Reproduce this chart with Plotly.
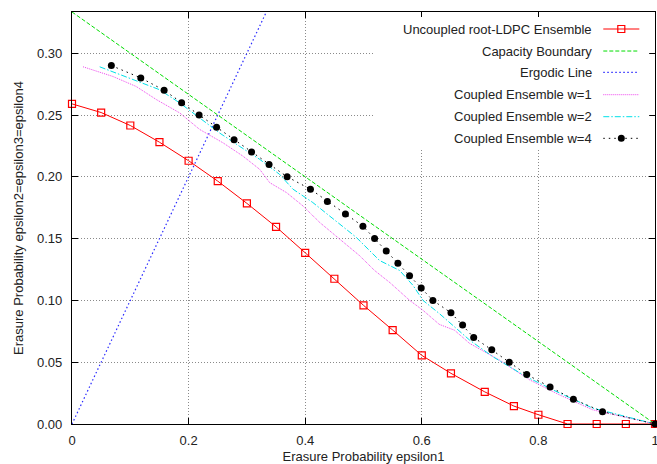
import plotly.graph_objects as go

# ---- data ----
uncoupled_x = [0, 0.05, 0.1, 0.15, 0.2, 0.25, 0.3, 0.35, 0.4, 0.45, 0.5, 0.55, 0.6, 0.65,
               0.708, 0.758, 0.8, 0.85, 0.9, 0.95, 1.0]
uncoupled_y = [0.259, 0.252, 0.2415, 0.228, 0.213, 0.1965, 0.1785, 0.1595, 0.1385, 0.1175,
               0.096, 0.076, 0.0555, 0.041, 0.026, 0.0145, 0.0075, 0.0, 0.0, 0.0, 0.0]

capacity_x = [0, 1]
capacity_y = [1 / 3, 0]

ergodic_x = [0, 1 / 3]
ergodic_y = [0, 1 / 3]

w1_x = [0.019, 0.070, 0.110, 0.145, 0.185, 0.219, 0.259, 0.293, 0.322, 0.339, 0.368, 0.396,
        0.425, 0.456, 0.493, 0.519, 0.545, 0.579, 0.602, 0.630, 0.656, 0.682, 0.733, 0.785,
        0.836, 0.893, 1.0]
w1_y = [0.289, 0.2812, 0.2731, 0.2624, 0.2516, 0.2383, 0.2275, 0.2168, 0.206, 0.1953, 0.1872,
        0.1765, 0.163, 0.1505, 0.1363, 0.1242, 0.1145, 0.1001, 0.092, 0.0806, 0.0759, 0.0652,
        0.0518, 0.0357, 0.0236, 0.0115, 0.0]

w2_x = [0.0475, 0.099, 0.150, 0.185, 0.219, 0.253, 0.287, 0.322, 0.356, 0.379, 0.413, 0.442,
        0.4876, 0.5275, 0.562, 0.585, 0.602, 0.630, 0.650, 0.682, 0.722, 0.779, 0.8365, 0.893, 1.0]
w2_y = [0.289, 0.2798, 0.2705, 0.2597, 0.2476, 0.2355, 0.2248, 0.2141, 0.202, 0.190, 0.1792,
        0.1685, 0.151, 0.1323, 0.1242, 0.1121, 0.100, 0.0894, 0.0813, 0.0679, 0.0544, 0.0383,
        0.025, 0.0129, 0.0]

w4_x = [0.0675, 0.118, 0.158, 0.188, 0.218, 0.248, 0.278, 0.308, 0.338, 0.369, 0.409, 0.438,
        0.469, 0.499, 0.519, 0.539, 0.559, 0.579, 0.599, 0.619, 0.650, 0.670, 0.689, 0.720,
        0.750, 0.780, 0.820, 0.860, 0.910, 1.0]
w4_y = [0.29, 0.28, 0.27, 0.26, 0.25, 0.24, 0.23, 0.22, 0.21, 0.20, 0.19, 0.18, 0.17, 0.16,
        0.15, 0.14, 0.13, 0.12, 0.11, 0.10, 0.09, 0.08, 0.07, 0.06, 0.05, 0.04, 0.03, 0.02,
        0.01, 0.0]

x_ticks = [0, 0.2, 0.4, 0.6, 0.8, 1.0]
x_tick_labels = ["0", "0.2", "0.4", "0.6", "0.8", "1"]
y_ticks = [0, 0.05, 0.10, 0.15, 0.20, 0.25, 0.30]
y_tick_labels = ["0.00", "0.05", "0.10", "0.15", "0.20", "0.25", "0.30"]

legend_names = ["Uncoupled root-LDPC Ensemble", "Capacity Boundary", "Ergodic Line",
                "Coupled Ensemble w=1", "Coupled Ensemble w=2", "Coupled Ensemble w=4"]

# ---- styles ----
RED = "#ff0000"
GREEN = "#00dd00"
BLUE = "#2a2aff"
MAGENTA = "#ee44ee"
CYAN = "#00e0e8"
BLACK = "#000000"
FONT = "Liberation Sans, Arial, Helvetica, sans-serif"

fig = go.Figure()

fig.add_trace(go.Scatter(x=uncoupled_x, y=uncoupled_y, mode="lines+markers",
                         line=dict(color=RED, width=1),
                         marker=dict(symbol="square-open", size=7, color=RED, line=dict(width=1.2)),
                         name=legend_names[0], cliponaxis=False))
fig.add_trace(go.Scatter(x=capacity_x, y=capacity_y, mode="lines",
                         line=dict(color=GREEN, width=1, dash="4px,2px"), name=legend_names[1]))
fig.add_trace(go.Scatter(x=ergodic_x, y=ergodic_y, mode="lines",
                         line=dict(color=BLUE, width=1.2, dash="1.5px,2.5px"), name=legend_names[2]))
fig.add_trace(go.Scatter(x=w1_x, y=w1_y, mode="lines",
                         line=dict(color=MAGENTA, width=1, dash="1px,1px"), name=legend_names[3]))
fig.add_trace(go.Scatter(x=w2_x, y=w2_y, mode="lines",
                         line=dict(color=CYAN, width=1, dash="6px,2px,1.5px,2px"), name=legend_names[4]))
fig.add_trace(go.Scatter(x=w4_x, y=w4_y, mode="lines+markers",
                         line=dict(color=BLACK, width=1, dash="1.5px,4px"),
                         marker=dict(symbol="circle", size=7, color=BLACK),
                         name=legend_names[5], cliponaxis=False))

# ---- gnuplot-style legend (text right-aligned, sample on the right) ----
text_x = 0.8959
samp_x0, samp_x1, samp_xc = 0.9113, 0.9731, 0.9422
rows_y = [0.9587, 0.9053, 0.8536, 0.7993, 0.7459, 0.6934]
styles = [(RED, "solid", 1), (GREEN, "4px,2px", 1), (BLUE, "1.5px,2.5px", 1.2),
          (MAGENTA, "1px,1px", 1), (CYAN, "6px,2px,1.5px,2px", 1), (BLACK, "1.5px,4px", 1)]

shapes = [dict(type="rect", xref="paper", yref="paper", x0=0.518, x1=0.99, y0=0.665, y1=0.988,
               fillcolor="white", line=dict(width=0), layer="above")]
annotations = []
for name, ry, (col, dash, w) in zip(legend_names, rows_y, styles):
    annotations.append(dict(xref="paper", yref="paper", x=text_x, y=ry, text=name,
                            xanchor="right", yanchor="middle", showarrow=False,
                            font=dict(family=FONT, size=13, color="#222222")))
    shapes.append(dict(type="line", xref="paper", yref="paper", x0=samp_x0, x1=samp_x1,
                       y0=ry, y1=ry, line=dict(color=col, width=w, dash=dash), layer="above"))
# legend markers
shapes.append(dict(type="rect", xref="paper", yref="paper", xsizemode="pixel", ysizemode="pixel",
                   xanchor=samp_xc, yanchor=rows_y[0], x0=-3.5, x1=3.5, y0=-3.5, y1=3.5,
                   line=dict(color=RED, width=1.2), fillcolor="rgba(0,0,0,0)", layer="above"))
shapes.append(dict(type="circle", xref="paper", yref="paper", xsizemode="pixel", ysizemode="pixel",
                   xanchor=samp_xc, yanchor=rows_y[5], x0=-3.5, x1=3.5, y0=-3.5, y1=3.5,
                   line=dict(color=BLACK, width=0), fillcolor=BLACK, layer="above"))

axis_common = dict(showline=True, linecolor="black", linewidth=1.2, mirror="ticks",
                   ticks="inside", ticklen=6, tickcolor="black", tickwidth=1,
                   showgrid=True, gridcolor="#8a8a8a", griddash="1px,2px", gridwidth=1,
                   zeroline=False, automargin=False, ticklabeloverflow="allow",
                   tickfont=dict(family=FONT, size=13, color="#222222"))

fig.update_layout(
    width=657, height=464,
    margin=dict(l=72, r=2, t=12, b=40),
    paper_bgcolor="white", plot_bgcolor="white",
    showlegend=False,
    font=dict(family=FONT, size=13, color="#222222"),
    shapes=shapes, annotations=annotations,
    xaxis=dict(range=[0, 1], tickvals=x_ticks, ticktext=x_tick_labels,
               title=dict(text="Erasure Probability epsilon1", standoff=6,
                          font=dict(family=FONT, size=13, color="#222222")),
               ticklabelstandoff=4, **axis_common),
    yaxis=dict(range=[0, 1 / 3], tickvals=y_ticks, ticktext=y_tick_labels,
               title=dict(text="Erasure Probability epsilon2=epsilon3=epsilon4", standoff=10,
                          font=dict(family=FONT, size=13, color="#222222")),
               ticklabelstandoff=6, **axis_common),
)

fig.write_html("out.html", config={"displayModeBar": False},
               post_script="document.body.style.margin='0px';document.body.style.overflow='hidden';")
